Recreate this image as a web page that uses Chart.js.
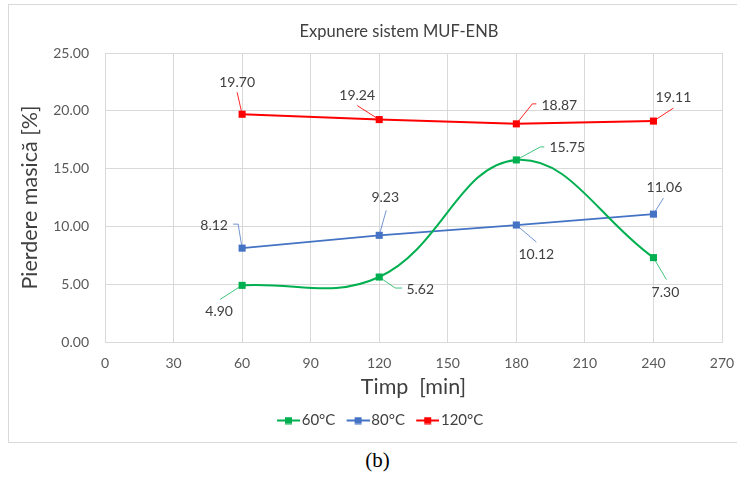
<!DOCTYPE html>
<html lang="ro">
<head>
<meta charset="utf-8" />
<title>Expunere sistem MUF-ENB</title>
<script src="https://cdn.jsdelivr.net/npm/chart.js"></script>
<style>
  html, body { margin: 0; padding: 0; background: #fff; overflow: hidden; }
  body { width: 737px; height: 478px; position: relative; }
  .chart-box {
    position: absolute; left: 8px; top: 4px;
    width: 743px; height: 439px;
    border: 1px solid #d9d9d9; box-sizing: border-box;
  }
  .caption {
    position: absolute; left: 0; top: 448px; width: 755px;
    text-align: center; font: 21px "Liberation Serif", "DejaVu Serif", serif; color: #000;
  }
</style>
</head>
<body>
<div class="chart-box">
  <canvas id="lossChart" width="741" height="437"></canvas>
</div>
<div class="caption">(b)</div>

<script>
  // data
  const timeMin = [60, 120, 180, 240];
  const seriesNames = ['60°C', '80°C', '120°C'];
  const loss60 = [4.90, 5.62, 15.75, 7.30];
  const loss80 = [8.12, 9.23, 10.12, 11.06];
  const loss120 = [19.70, 19.24, 18.87, 19.11];
  const xMin = 0, xMax = 270, xStep = 30;
  const yMin = 0, yMax = 25, yStep = 5;

  // where each value label sits relative to its point (px), plus the leader line corners
  const labels60 = [
    { dx: -23, dy: 26, lead: [[-22, 14]] },
    { dx: 41, dy: 12, lead: [[16, 11], [23, 11]] },
    { dx: 51, dy: -12, lead: [[24, -13], [28, -13]] },
    { dx: 12, dy: 35, lead: [[13, 22]] }
  ];
  const labels80 = [
    { dx: -28, dy: -23, lead: [[-4, -24], [-9, -24]] },
    { dx: 6, dy: -38, lead: [[7, -25]] },
    { dx: 20, dy: 29, lead: [[20, 17]] },
    { dx: 11, dy: -27, lead: [[10, -16]] }
  ];
  const labels120 = [
    { dx: -5, dy: -32, lead: [[-5, -22]] },
    { dx: -22, dy: -24, lead: [[-22, -14]] },
    { dx: 43, dy: -18, lead: [[16, -20], [20, -20]] },
    { dx: 20, dy: -24, lead: [[20, -13]] }
  ];

  const FONT = 'Lato, "Open Sans", sans-serif';
  Chart.defaults.font.family = FONT;

  // legend marker: short line with a square in the middle
  function legendMark(color) {
    const c = document.createElement('canvas');
    c.width = 30; c.height = 8;
    const g = c.getContext('2d');
    g.strokeStyle = color; g.lineWidth = 2;
    g.beginPath(); g.moveTo(7, 4); g.lineTo(30, 4); g.stroke();
    g.fillStyle = color;
    g.fillRect(15, 0.5, 7, 7);
    return c;
  }

  function makeSeries(name, values, color, extra) {
    return Object.assign({
      label: name,
      data: values.map((v, i) => ({ x: timeMin[i], y: v })),
      borderColor: color,
      backgroundColor: color,
      borderWidth: 2,
      pointStyle: 'rect',
      pointRadius: 5,
      pointHoverRadius: 5,
      pointBorderWidth: 0,
      tension: 0,
      fill: false
    }, extra);
  }

  const seriesColors = ['#00b050', '#4472c4', '#ff0000'];
  const leaderColors = ['rgba(0,176,80,0.75)', 'rgba(68,114,196,0.75)', 'rgba(255,0,0,0.85)'];
  const labelSets = [labels60, labels80, labels120];

  // value labels with leader lines
  const valueLabels = {
    id: 'valueLabels',
    beforeDatasetsDraw(chart) {
      const ctx = chart.ctx;
      ctx.save();
      ctx.lineWidth = 1;
      chart.data.datasets.forEach((ds, di) => {
        const meta = chart.getDatasetMeta(di);
        ctx.strokeStyle = leaderColors[di];
        meta.data.forEach((pt, i) => {
          const l = labelSets[di][i];
          ctx.beginPath();
          ctx.moveTo(pt.x, pt.y);
          l.lead.forEach(p => ctx.lineTo(pt.x + p[0], pt.y + p[1]));
          ctx.stroke();
        });
      });
      ctx.restore();
    },
    afterDatasetsDraw(chart) {
      const ctx = chart.ctx;
      ctx.save();
      ctx.font = '14px ' + FONT;
      ctx.fillStyle = '#404040';
      ctx.textAlign = 'center';
      ctx.textBaseline = 'middle';
      chart.data.datasets.forEach((ds, di) => {
        const meta = chart.getDatasetMeta(di);
        meta.data.forEach((pt, i) => {
          const l = labelSets[di][i];
          ctx.fillText(ds.data[i].y.toFixed(2), pt.x + l.dx, pt.y + l.dy);
        });
      });
      ctx.restore();
    }
  };

  // chart title, placed like in the figure
  const chartTitle = {
    id: 'chartTitle',
    afterDraw(chart) {
      const ctx = chart.ctx;
      ctx.save();
      ctx.font = '16.5px ' + FONT;
      ctx.fillStyle = '#404040';
      ctx.textAlign = 'center';
      ctx.textBaseline = 'middle';
      ctx.fillText('Expunere sistem MUF-ENB', 390, 27);
      ctx.restore();
    }
  };

  new Chart(document.getElementById('lossChart'), {
    type: 'line',
    data: {
      datasets: [
        makeSeries(seriesNames[0], loss60, seriesColors[0], { tension: 0.4 }),
        makeSeries(seriesNames[1], loss80, seriesColors[1], { borderWidth: 1.75 }),
        makeSeries(seriesNames[2], loss120, seriesColors[2])
      ]
    },
    options: {
      responsive: false,
      animation: false,
      layout: { padding: { left: 0, right: 0, top: 48, bottom: 4 } },
      scales: {
        x: {
          type: 'linear',
          min: xMin, max: xMax,
          ticks: { stepSize: xStep, padding: 13, color: '#595959', font: { size: 14 } },
          grid: { color: '#d9d9d9', drawTicks: false },
          border: { color: '#d9d9d9' },
          title: { display: true, text: 'Timp  [min]', color: '#404040', font: { size: 21.5 }, padding: { top: 0, bottom: 3 } },
          afterFit(s) { s.height = 61; }
        },
        y: {
          min: yMin, max: yMax,
          ticks: { stepSize: yStep, padding: 16, color: '#595959', font: { size: 14 }, callback: v => v.toFixed(2) },
          grid: { color: '#d9d9d9', drawTicks: false },
          border: { color: '#d9d9d9' },
          title: { display: true, text: 'Pierdere masică [%]', color: '#404040', font: { size: 21.5 }, padding: { top: 8, bottom: 0 } },
          afterFit(s) { s.width = 96; }
        },
        // empty right-hand axis: keeps the plot's right margin while the legend stays centred on the box
        yRight: {
          position: 'right',
          min: yMin, max: yMax,
          ticks: { display: false },
          grid: { display: false, drawTicks: false },
          border: { display: false },
          afterFit(s) { s.width = 28; }
        }
      },
      plugins: {
        title: { display: false },
        tooltip: { enabled: false },
        legend: {
          position: 'bottom',
          labels: {
            usePointStyle: true,
            pointStyleWidth: 18.5,
            boxHeight: 8,
            padding: 10,
            color: '#404040',
            font: { size: 15 },
            generateLabels(chart) {
              return chart.data.datasets.map((ds, i) => ({
                text: ds.label,
                pointStyle: legendMark(seriesColors[i]),
                fillStyle: seriesColors[i],
                strokeStyle: seriesColors[i],
                lineWidth: 0,
                fontColor: '#404040',
                hidden: false,
                datasetIndex: i
              }));
            }
          }
        }
      }
    },
    plugins: [valueLabels, chartTitle]
  });
</script>
</body>
</html>
